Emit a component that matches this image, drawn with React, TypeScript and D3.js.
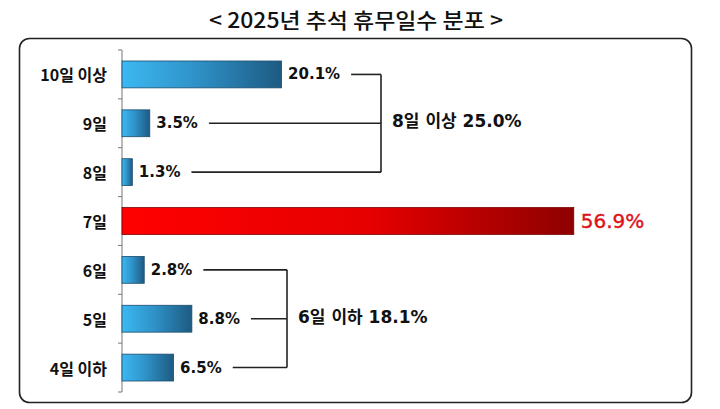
import React, { useEffect, useRef } from "react";
import * as d3 from "d3";

const title = "< 2025년 추석 휴무일수 분포 >";
const categories = ["10일 이상", "9일", "8일", "7일", "6일", "5일", "4일 이하"];
const values = [20.1, 3.5, 1.3, 56.9, 2.8, 8.8, 6.5];
const highlightCategory = "7일";
const groupLabels = ["8일 이상 25.0%", "6일 이하 18.1%"];
const groupMembers = [
  ["10일 이상", "9일", "8일"],
  ["6일", "5일", "4일 이하"],
];

const W = 720;
const H = 409;

export default function App() {
  const ref = useRef<SVGSVGElement | null>(null);

  useEffect(() => {
    const svg = d3.select(ref.current);
    svg.selectAll("*").remove();

    const axisX = 122;
    const x = d3.scaleLinear().domain([0, 60]).range([axisX, axisX + 60 * 7.94]);
    const y = d3
      .scaleBand<string>()
      .domain(categories)
      .range([50, 392])
      .paddingInner(0.45)
      .paddingOuter(0.225);

    const defs = svg.append("defs");
    const gb = defs
      .append("linearGradient")
      .attr("id", "gBlue")
      .attr("x1", "0")
      .attr("x2", "1")
      .attr("y1", "0")
      .attr("y2", "0");
    gb.append("stop").attr("offset", "0").attr("stop-color", "#3cb8f2");
    gb.append("stop").attr("offset", "0.45").attr("stop-color", "#2f93c9");
    gb.append("stop").attr("offset", "1").attr("stop-color", "#1d5a82");
    const gr = defs
      .append("linearGradient")
      .attr("id", "gRed")
      .attr("x1", "0")
      .attr("x2", "1")
      .attr("y1", "0")
      .attr("y2", "0");
    gr.append("stop").attr("offset", "0").attr("stop-color", "#ff0000");
    gr.append("stop").attr("offset", "0.55").attr("stop-color", "#e60000");
    gr.append("stop").attr("offset", "1").attr("stop-color", "#8e0000");

    svg
      .append("rect")
      .attr("width", W)
      .attr("height", H)
      .attr("fill", "#ffffff");

    // title
    svg
      .append("text")
      .attr("x", 209)
      .attr("y", 27.5)
      .attr("textLength", 294)
      .attr("lengthAdjust", "spacingAndGlyphs")
      .attr("font-family", "'Noto Sans CJK KR', sans-serif")
      .attr("font-weight", 500)
      .attr("font-size", 21)
      .attr("fill", "#111")
      .text(title);

    // frame
    svg
      .append("rect")
      .attr("x", 19.5)
      .attr("y", 38.5)
      .attr("width", 672)
      .attr("height", 364)
      .attr("rx", 10)
      .attr("fill", "none")
      .attr("stroke", "#222")
      .attr("stroke-width", 1.6);

    // axis
    const step = y.step();
    const y0 = y.range()[0];
    svg
      .append("line")
      .attr("x1", axisX)
      .attr("x2", axisX)
      .attr("y1", y0)
      .attr("y2", y.range()[1])
      .attr("stroke", "#777")
      .attr("stroke-width", 1);
    d3.range(categories.length + 1).forEach((i) => {
      svg
        .append("line")
        .attr("x1", axisX - 4)
        .attr("x2", axisX)
        .attr("y1", y0 + i * step)
        .attr("y2", y0 + i * step)
        .attr("stroke", "#777")
        .attr("stroke-width", 1);
    });

    // category labels
    categories.forEach((c) => {
      svg
        .append("text")
        .attr("x", 107)
        .attr("y", (y(c) as number) + y.bandwidth() / 2)
        .attr("text-anchor", "end")
        .attr("dominant-baseline", "central")
        .attr("font-family", "'Noto Sans CJK KR', sans-serif")
        .attr("font-weight", 700)
        .attr("font-size", 16)
        .attr("fill", "#111")
        .text(c);
    });

    const labelEnd: Record<string, number> = {};
    const midY: Record<string, number> = {};

    categories.forEach((c, i) => {
      const v = values[i];
      const hi = c === highlightCategory;
      const by = y(c) as number;
      svg
        .append("rect")
        .attr("x", axisX)
        .attr("y", by)
        .attr("width", x(v) - axisX)
        .attr("height", y.bandwidth())
        .attr("fill", hi ? "url(#gRed)" : "url(#gBlue)")
        .attr("stroke", hi ? "#7a0000" : "#1d4d6d")
        .attr("stroke-width", 0.8);
      const cy = by + y.bandwidth() / 2;
      midY[c] = cy;
      const t = svg
        .append("text")
        .attr("x", x(v) + (hi ? 7 : 6.5))
        .attr("y", cy)
        .attr("dominant-baseline", "central")
        .attr("font-family", "'DejaVu Sans', sans-serif")
        .attr("font-weight", hi ? 400 : 700)
        .attr("font-size", hi ? 20 : 15)
        .attr("fill", hi ? "#dc1419" : "#111")
        .attr("stroke", hi ? "#dc1419" : "none")
        .attr("stroke-width", hi ? 0.4 : 0)
        .text(`${v.toFixed(1)}%`);
      const node = t.node() as SVGTextElement;
      labelEnd[c] = x(v) + 6.5 + node.getComputedTextLength();
    });

    // group brackets
    const bracketX = [381, 287];
    groupMembers.forEach((members, gi) => {
      const bx = bracketX[gi];
      const ys = members.map((m) => midY[m]);
      members.forEach((m) => {
        const start = Math.min(labelEnd[m] + 11, bx - 10);
        svg
          .append("line")
          .attr("x1", start)
          .attr("x2", bx)
          .attr("y1", midY[m])
          .attr("y2", midY[m])
          .attr("stroke", "#222")
          .attr("stroke-width", 1.6);
      });
      svg
        .append("line")
        .attr("x1", bx)
        .attr("x2", bx)
        .attr("y1", d3.min(ys) as number)
        .attr("y2", d3.max(ys) as number)
        .attr("stroke", "#222")
        .attr("stroke-width", 1.6);
      const my = ys[1];
      svg
        .append("text")
        .attr("x", bx + 11)
        .attr("y", my - 2)
        .attr("dominant-baseline", "central")
        .attr("font-family", "'DejaVu Sans', 'Noto Sans CJK KR', sans-serif")
        .attr("font-weight", 700)
        .attr("font-size", 17)
        .attr("fill", "#111")
        .text(groupLabels[gi]);
    });
  }, []);

  return (
    <svg
      ref={ref}
      width={W}
      height={H}
      style={{ position: "absolute", left: 0, top: 0, display: "block" }}
    />
  );
}
